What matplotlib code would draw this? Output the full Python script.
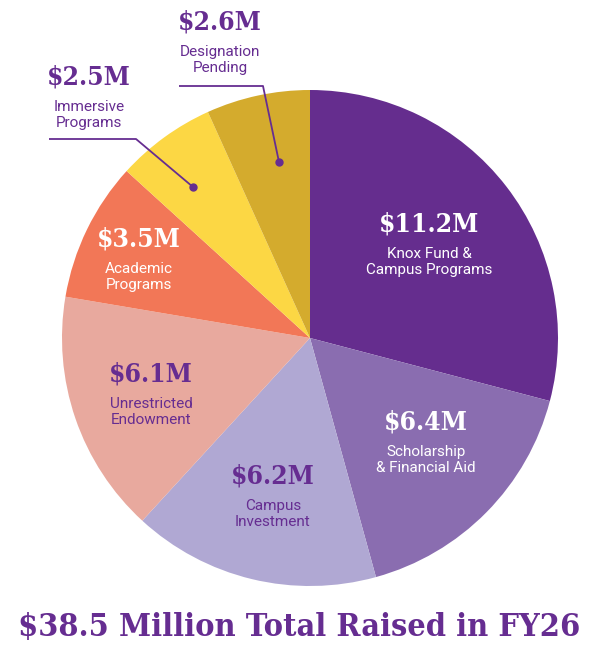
import matplotlib
matplotlib.use("Agg")
import matplotlib.pyplot as plt

categories = ["Knox Fund &\nCampus Programs", "Scholarship\n& Financial Aid", "Campus\nInvestment",
              "Unrestricted\nEndowment", "Academic\nPrograms", "Immersive\nPrograms", "Designation\nPending"]
values = [11.2, 6.4, 6.2, 6.1, 3.5, 2.5, 2.6]
value_labels = ["$11.2M", "$6.4M", "$6.2M", "$6.1M", "$3.5M", "$2.5M", "$2.6M"]
title = "$38.5 Million Total Raised in FY26"

colors = ["#652d8e", "#8a6db0", "#b0a8d3", "#e8a99e", "#f27757", "#fcd744", "#d4ab2d"]
text_colors = ["white", "white", "#662d91", "#662d91", "white", "#662d91", "#662d91"]
PURPLE = "#662d91"

W, H = 600, 662
fig = plt.figure(figsize=(6, 6.62), dpi=100)
ax = fig.add_axes([0, 0, 1, 1])

cx, cy, r = 310, H - 338, 248
ax.pie(values, colors=colors, startangle=90, counterclock=False,
       center=(cx, cy), radius=r, frame=True,
       wedgeprops=dict(linewidth=0))
ax.set_xlim(0, W)
ax.set_ylim(0, H)
ax.set_aspect("equal")
ax.axis("off")

serif = ["DejaVu Serif Condensed", "DejaVu Serif"]
pos = [(429, 224), (426, 422), (273, 476), (151, 374), (139, 239), (89, 77), (220, 22)]
vfont = dict(family=serif, weight="bold", stretch="condensed", size=19)
lfont = dict(family="Roboto", size=11)
for (x, y), v, lab, tc in zip(pos, value_labels, categories, text_colors):
    ax.text(x, H - y, v, ha="center", va="center", color=tc, **vfont)
    ax.text(x, H - (y + 38), lab, ha="center", va="center", color=tc,
            linespacing=1.15, **lfont)

lines = [
    ([49, 136, 193], [139, 139, 187]),
    ([179, 263, 279], [86, 86, 162]),
]
for xs, ys in lines:
    ax.plot(xs, [H - y for y in ys], color=PURPLE, lw=1.3, solid_capstyle="butt")
    ax.plot(xs[-1], H - ys[-1], "o", color=PURPLE, ms=5)

t = ax.text(W / 2 - 1, H - 628, title, ha="center", va="center", color=PURPLE,
            family=serif, weight="bold", stretch="condensed", size=28)
fig.canvas.draw()
rend = fig.canvas.get_renderer()
sz = 28
while t.get_window_extent(rend).width > 564 and sz > 10:
    sz -= 0.25
    t.set_fontsize(sz)

fig.savefig("out.png", dpi=100)
